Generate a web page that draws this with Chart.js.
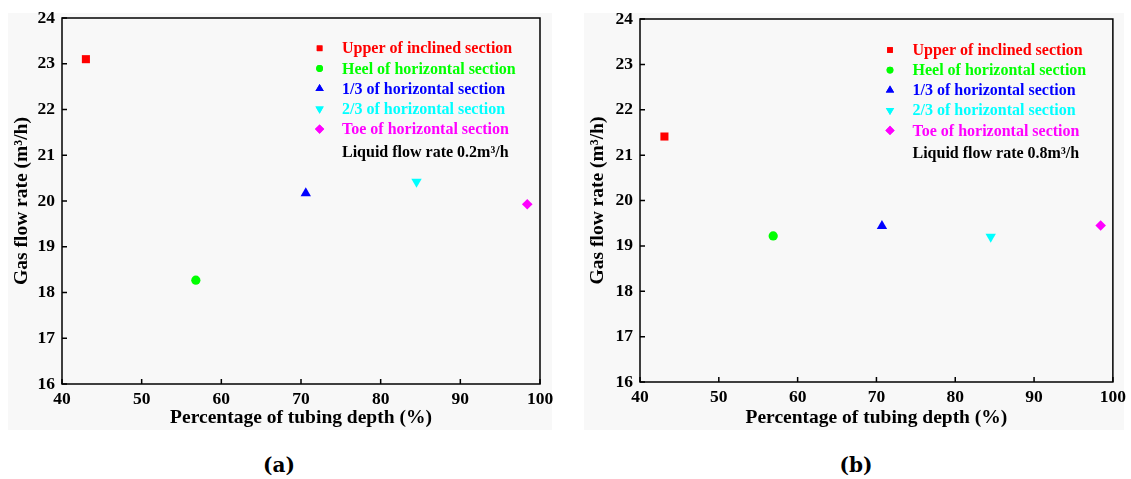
<!DOCTYPE html>
<html>
<head>
<meta charset="utf-8">
<script src="https://cdn.jsdelivr.net/npm/chart.js@4/dist/chart.umd.min.js"></script>
<style>
  html, body { margin: 0; padding: 0; background: #ffffff; }
  #stage { position: relative; width: 1131px; height: 479px; overflow: hidden; background: #fff; }
  .panel { position: absolute; background: #f8f8f8; }
  .wrap { position: absolute; }
  .cap { position: absolute; font-family: "DejaVu Serif", "Liberation Serif", serif; font-weight: bold; font-size: 20px; color: #000; transform: translate(-50%, -50%); white-space: nowrap; }
</style>
</head>
<body>
<div id="stage">
  <div class="panel" style="left:8px;top:13px;width:544px;height:417px;"></div>
  <div class="panel" style="left:584px;top:13px;width:540px;height:417px;"></div>
  <div class="wrap" style="left:0px;top:0px;width:560px;height:440px;"><canvas id="chartA"></canvas></div>
  <div class="wrap" style="left:560px;top:0px;width:571px;height:440px;"><canvas id="chartB"></canvas></div>
  <div class="cap" style="left:279px;top:465px;">(a)</div>
  <div class="cap" style="left:856px;top:465px;">(b)</div>
</div>
<script>
// ---- data ----
const categories = [
  'Upper of inclined section',
  'Heel of horizontal section',
  '1/3 of horizontal section',
  '2/3 of horizontal section',
  'Toe of horizontal section'
];
const depthA = [43.0, 56.8, 70.6, 84.5, 98.4];
const gasA   = [23.10, 18.27, 20.17, 20.42, 19.93];
const depthB = [43.1, 56.9, 70.7, 84.5, 98.45];
const gasB   = [21.41, 19.22, 19.44, 19.20, 19.45];
const xTickValues = [40, 50, 60, 70, 80, 90, 100];
const yTickValues = [16, 17, 18, 19, 20, 21, 22, 23, 24];
const noteA = 'Liquid flow rate 0.2m\u00B3/h';
const noteB = 'Liquid flow rate 0.8m\u00B3/h';
const xTitle = 'Percentage of tubing depth (%)';
const yTitle = 'Gas flow rate (m\u00B3/h)';

// ---- styles ----
const colors = ['#ff0000', '#00ff00', '#0000ff', '#00ffff', '#ff00ff'];
const pStyles = ['rect', 'circle', 'triangle', 'triangle', 'rectRot'];
const pRot = [0, 0, 0, 180, 0];
const pRad = [5.7, 4.6, 6.0, 6.0, 5.3];
const legRad = [4.0, 3.4, 4.8, 4.8, 4.6];
const FONT = '"Liberation Serif", "Times New Roman", serif';

const framePlugin = {
  id: 'frameTicks',
  afterDatasetsDraw(chart) {
    const ctx = chart.ctx, a = chart.chartArea;
    const xs = chart.scales.x, ys = chart.scales.y;
    ctx.save();
    ctx.strokeStyle = '#000';
    ctx.lineWidth = 1.5;
    ctx.beginPath();
    xs.ticks.forEach((t, i) => {
      const px = xs.getPixelForTick(i);
      ctx.moveTo(px, a.bottom); ctx.lineTo(px, a.bottom - 5);
    });
    ys.ticks.forEach((t, i) => {
      const py = ys.getPixelForTick(i);
      ctx.moveTo(a.left, py); ctx.lineTo(a.left + 5, py);
    });
    ctx.stroke();
    ctx.strokeRect(a.left, a.top, a.right - a.left, a.bottom - a.top);
    ctx.restore();
  }
};

const legendPlugin = {
  id: 'inLegend',
  afterDraw(chart, args, opts) {
    const ctx = chart.ctx, a = chart.chartArea;
    ctx.save();
    ctx.font = 'bold 16px ' + FONT;
    ctx.textBaseline = 'middle';
    ctx.textAlign = 'left';
    chart.data.datasets.forEach((ds, i) => {
      const y = a.top + opts.firstRow + i * opts.rowGap;
      const mx = a.left + opts.markerX;
      ctx.fillStyle = colors[i];
      ctx.strokeStyle = colors[i];
      Chart.helpers.drawPoint(ctx, {pointStyle: pStyles[i], rotation: pRot[i], radius: legRad[i], borderWidth: 0}, mx, y);
      ctx.fill();
      ctx.fillStyle = colors[i];
      ctx.fillText(ds.label, a.left + opts.textX, y + 1);
    });
    ctx.fillStyle = '#000';
    const ny = a.top + opts.firstRow + 4 * opts.rowGap + opts.noteGap;
    ctx.fillText(opts.note, a.left + opts.textX, ny + 1);
    ctx.restore();
  }
};

function makeChart(id, xs, ys, p) {
  const datasets = categories.map((c, i) => ({
    label: c,
    data: [{x: xs[i], y: ys[i]}],
    backgroundColor: colors[i],
    borderColor: colors[i],
    borderWidth: 0,
    pointStyle: pStyles[i],
    rotation: pRot[i],
    pointRadius: pRad[i],
    pointHoverRadius: pRad[i],
    showLine: false
  }));
  return new Chart(document.getElementById(id), {
    type: 'scatter',
    data: { datasets },
    plugins: [framePlugin, legendPlugin],
    options: {
      responsive: true,
      maintainAspectRatio: false,
      animation: false,
      events: [],
      layout: { padding: { left: 0, top: p.top, right: p.right, bottom: 0 } },
      plugins: {
        legend: { display: false },
        tooltip: { enabled: false },
        inLegend: { markerX: p.markerX, textX: p.textX, firstRow: p.firstRow, rowGap: p.rowGap, noteGap: p.noteGap, note: p.note }
      },
      scales: {
        x: {
          type: 'linear', min: 40, max: 100,
          afterBuildTicks: s => { s.ticks = xTickValues.map(v => ({value: v})); },
          afterFit: s => { s.height = p.xAxisH; },
          grid: { display: false, drawTicks: false },
          border: { display: false },
          ticks: { color: '#000', padding: 5, font: { family: FONT, size: 17.5, weight: 'bold' }, maxRotation: 0 },
          title: { display: true, text: xTitle, color: '#000', font: { family: FONT, size: 19.5, weight: 'bold' }, padding: { top: 0, bottom: 10.3 } }
        },
        y: {
          type: 'linear', min: 16, max: 24,
          afterBuildTicks: s => { s.ticks = yTickValues.map(v => ({value: v})); },
          afterFit: s => { s.width = p.yAxisW; },
          grid: { display: false, drawTicks: false },
          border: { display: false },
          ticks: { color: '#000', padding: 7, font: { family: FONT, size: 17.5, weight: 'bold' } },
          title: { display: true, text: yTitle, color: '#000', font: { family: FONT, size: 19.5, weight: 'bold' }, padding: { top: p.yTitlePad, bottom: 0 } }
        }
      }
    }
  });
}

makeChart('chartA', depthA, gasA, {
  top: 18, right: 20, xAxisH: 56, yAxisW: 62, yTitlePad: 10.3,
  markerX: 257.6, textX: 280, firstRow: 30.3, rowGap: 20.2, noteGap: 22.7, note: noteA
});
makeChart('chartB', depthB, gasB, {
  top: 19, right: 18, xAxisH: 58, yAxisW: 80, yTitlePad: 26.3,
  markerX: 250, textX: 272.5, firstRow: 31, rowGap: 20.1, noteGap: 22.4, note: noteB
});
</script>
</body>
</html>
